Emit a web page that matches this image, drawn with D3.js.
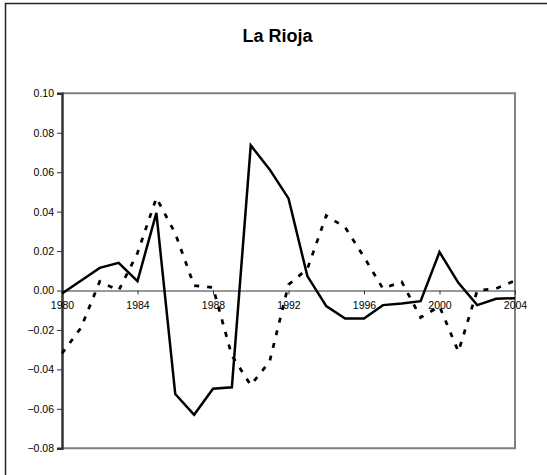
<!DOCTYPE html>
<html>
<head>
<meta charset="utf-8">
<script src="https://cdn.jsdelivr.net/npm/d3@7"></script>
<style>
  html, body { margin: 0; padding: 0; background: #fff; }
  svg { display: block; font-family: "Liberation Sans", Arial, sans-serif; }
</style>
</head>
<body>
<svg id="chart" width="547" height="475"></svg>
<script>
const title = "La Rioja";
const years = [1980,1981,1982,1983,1984,1985,1986,1987,1988,1989,1990,1991,1992,1993,1994,1995,1996,1997,1998,1999,2000,2001,2002,2003,2004];
const solidSeries = [-0.0015,0.005,0.0115,0.014,0.0048,0.0394,-0.0525,-0.063,-0.0498,-0.0491,0.0736,0.0614,0.0467,0.0073,-0.0079,-0.0142,-0.0142,-0.0074,-0.0066,-0.0054,0.0195,0.0039,-0.0074,-0.0042,-0.0039];
const dashedSeries = [-0.0319,-0.019,0.0046,0.0,0.019,0.047,0.029,0.0025,0.0015,-0.033,-0.048,-0.036,0.003,0.011,0.038,0.032,0.017,0.001,0.0044,-0.0137,-0.008,-0.031,0.0,0.001,0.005];
const yTicks = [0.10,0.08,0.06,0.04,0.02,0.00,-0.02,-0.04,-0.06,-0.08];
const xTicks = [1980,1984,1988,1992,1996,2000,2004];

const svg = d3.select("#chart");
const plot = {left: 62, right: 515, top: 93.3, bottom: 448.3};

const x = d3.scaleLinear().domain([1980, 2004]).range([plot.left, plot.right]);
const y = d3.scaleLinear().domain([-0.08, 0.10]).range([plot.bottom, plot.top]);

// outer frame (top and left edges visible)
svg.append("path").attr("d", "M5.5,480V3.5H547")
  .attr("fill", "none").attr("stroke", "#222").attr("stroke-width", 1.5);

// title
svg.append("text").attr("x", 277.5).attr("y", 42).attr("text-anchor", "middle")
  .attr("font-size", 18).attr("font-weight", "bold").attr("fill", "#000").text(title);

// plot border (gray top, right, bottom)
svg.append("path")
  .attr("d", `M${plot.left},${plot.top}H${plot.right}V${plot.bottom}H${plot.left}`)
  .attr("fill", "none").attr("stroke", "#808080").attr("stroke-width", 2);

// y axis
const yAxis = d3.axisLeft(y).tickValues(yTicks).tickSize(5).tickPadding(3)
  .tickFormat(d3.format(".2f"));
const gy = svg.append("g").attr("transform", `translate(${plot.left},0)`).call(yAxis);
gy.select(".domain").attr("stroke", "#333").attr("stroke-width", 2.5);
gy.selectAll(".tick line").attr("stroke", "#333").attr("stroke-width", 1);
gy.selectAll(".tick text").attr("font-size", 10.5).attr("fill", "#000")
  .attr("font-family", "'Liberation Sans', Arial, sans-serif");

// x axis on zero line
const xAxis = d3.axisBottom(x).tickValues(xTicks).tickSize(4).tickPadding(7)
  .tickFormat(d3.format("d"));
const gx = svg.append("g").attr("transform", `translate(0,${y(0)})`).call(xAxis);
gx.select(".domain").attr("stroke", "#333").attr("stroke-width", 1);
gx.selectAll(".tick line").attr("stroke", "#333").attr("stroke-width", 1);
gx.selectAll(".tick text").attr("font-size", 10.5).attr("fill", "#000")
  .attr("font-family", "'Liberation Sans', Arial, sans-serif");

const line = d3.line().x((d, i) => x(years[i])).y(d => y(d));

svg.append("path").datum(dashedSeries).attr("d", line)
  .attr("fill", "none").attr("stroke", "#000").attr("stroke-width", 2.75)
  .attr("stroke-dasharray", "5,8");

svg.append("path").datum(solidSeries).attr("d", line)
  .attr("fill", "none").attr("stroke", "#000").attr("stroke-width", 2.5)
  .attr("stroke-linejoin", "miter");
</script>
</body>
</html>
